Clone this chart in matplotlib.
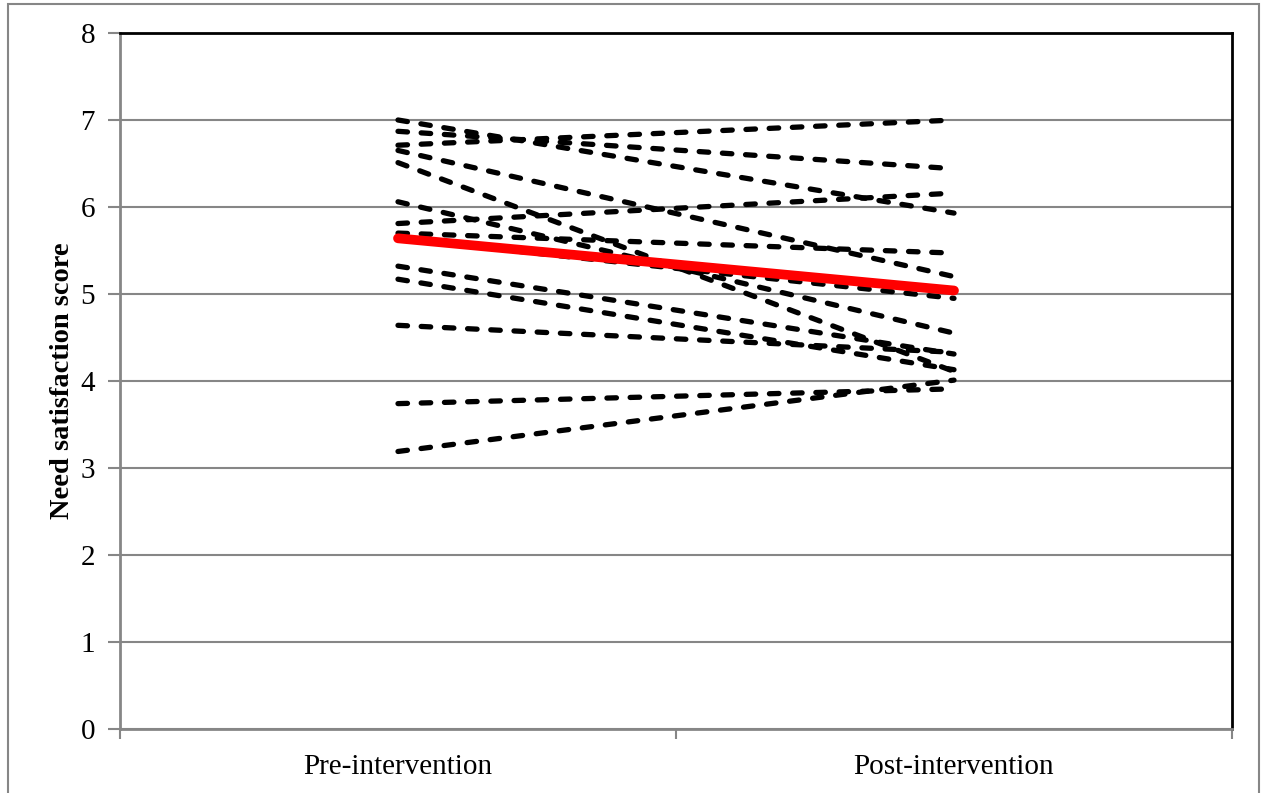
import matplotlib
matplotlib.use('Agg')
from matplotlib import pyplot as plt
from matplotlib.patches import Rectangle

# categories and x positions (category centres)
categories = ['Pre-intervention', 'Post-intervention']
cat_pos = [0.5, 1.5]

# individual participants: pre / post scores
pre_scores = [7.00, 6.87, 6.71, 6.65, 6.51, 6.06, 5.81, 5.70, 5.64, 5.32, 5.17, 4.64, 3.74, 3.19]
post_scores = [5.93, 6.44, 7.00, 5.20, 4.11, 4.55, 6.16, 5.47, 4.95, 4.31, 4.13, 4.33, 3.91, 4.01]

# group mean
mean_pre = 5.64
mean_post = 5.04

y_ticks = [0, 1, 2, 3, 4, 5, 6, 7, 8]

grey = '#868686'
serif = 'Liberation Serif'

fig = plt.figure(figsize=(12.62, 7.93), dpi=100)
ax = fig.add_axes([120 / 1262, 1 - 729 / 793, 1112 / 1262, 696 / 793])

# outer chart border
fig.patches.append(Rectangle((8 / 1262, -0.02), 1251 / 1262, 1.02 - 4 / 793,
                             transform=fig.transFigure, fill=False,
                             edgecolor=grey, linewidth=1.5))

for a, b in zip(pre_scores, post_scores):
    ax.plot(cat_pos, [a, b], color='black', linewidth=3.8,
            linestyle=(0, (1.8, 2.6)), dash_capstyle='round', zorder=3)

ax.plot(cat_pos, [mean_pre, mean_post], color='#ff0000', linewidth=7,
        solid_capstyle='round', zorder=4)

ax.set_xlim(0, 2)
ax.set_ylim(0, 8)
ax.set_yticks(y_ticks)
ax.set_yticklabels([str(v) for v in y_ticks], fontsize=21, family=serif)
ax.yaxis.grid(True, color=grey, linewidth=1.5, zorder=1)
ax.set_axisbelow(True)

ax.set_xticks([0, 1, 2])
ax.set_xticklabels(['', '', ''])
ax.set_xticks(cat_pos, minor=True)
ax.set_xticklabels(categories, minor=True, fontsize=21, family=serif)
ax.tick_params(axis='x', which='minor', length=0, pad=18)
ax.tick_params(axis='x', which='major', length=7, width=1.5, color=grey)
ax.tick_params(axis='y', length=9, width=1.5, color=grey, pad=9)

for s in ['left', 'bottom']:
    ax.spines[s].set_color(grey)
    ax.spines[s].set_linewidth(2)
for s in ['top', 'right']:
    ax.spines[s].set_color('black')
    ax.spines[s].set_linewidth(2)

ax.set_ylabel('Need satisfaction score', fontsize=20.5, fontweight='bold',
              family=serif, labelpad=4)

plt.savefig('out.png', dpi=100)
